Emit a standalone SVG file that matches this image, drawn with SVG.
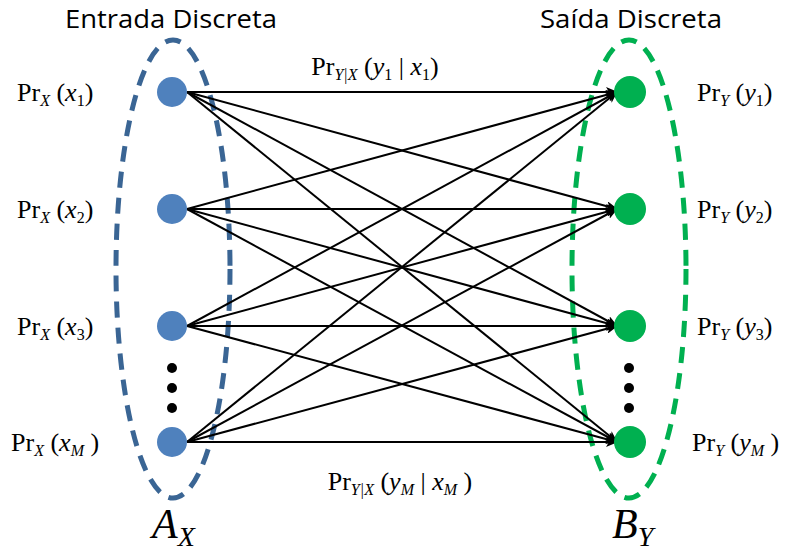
<svg xmlns="http://www.w3.org/2000/svg" width="789" height="553" viewBox="0 0 789 553">
<style>
.title{font-family:"Open Sans","Liberation Sans",sans-serif;font-size:26px;fill:#000}
.m{font-family:"Liberation Serif",serif;font-size:26px;fill:#000}
.i{font-style:italic}
.s{font-size:16px}
.big{font-family:"Liberation Serif",serif;font-size:42px;font-style:italic;fill:#000}
.bigs{font-size:28px}
.conn line{stroke:#000;stroke-width:2;marker-end:url(#ah)}
.bn{fill:#4F81BD}
.gn{fill:#00B050}
.dot{fill:#000}
</style>
<defs>
<marker id="ah" viewBox="0 0 12 10" refX="11" refY="5" markerWidth="12" markerHeight="10" markerUnits="userSpaceOnUse" orient="auto">
<path d="M0,0 L12,5 L0,10 L3,5 Z" fill="#000"/>
</marker>
</defs>
<rect width="789" height="553" fill="#fff"/>
<g id="ellipses">
<ellipse cx="173" cy="269" rx="57" ry="229" fill="none" stroke="#3A6594" stroke-width="5" stroke-dasharray="16,10"/>
<ellipse cx="629" cy="269" rx="57" ry="229" fill="none" stroke="#00B050" stroke-width="5" stroke-dasharray="16,10"/>
</g>
<g id="titles">
<text class="title" x="171" y="28" text-anchor="middle" textLength="212" lengthAdjust="spacingAndGlyphs">Entrada Discreta</text>
<text class="title" x="631" y="28" text-anchor="middle" textLength="182" lengthAdjust="spacingAndGlyphs">Saída Discreta</text>
</g>
<g class="conn" id="connectors">
<line x1="187" y1="92" x2="617" y2="92"/>
<line x1="187" y1="92" x2="617" y2="209"/>
<line x1="187" y1="92" x2="617" y2="326"/>
<line x1="187" y1="92" x2="617" y2="442"/>
<line x1="187" y1="209" x2="617" y2="92"/>
<line x1="187" y1="209" x2="617" y2="209"/>
<line x1="187" y1="209" x2="617" y2="326"/>
<line x1="187" y1="209" x2="617" y2="442"/>
<line x1="187" y1="326" x2="617" y2="92"/>
<line x1="187" y1="326" x2="617" y2="209"/>
<line x1="187" y1="326" x2="617" y2="326"/>
<line x1="187" y1="326" x2="617" y2="442"/>
<line x1="187" y1="442" x2="617" y2="92"/>
<line x1="187" y1="442" x2="617" y2="209"/>
<line x1="187" y1="442" x2="617" y2="326"/>
<line x1="187" y1="442" x2="617" y2="442"/>
</g>
<g id="x1"><circle class="bn" cx="172" cy="92" r="15"/><text class="m" x="17" y="101">Pr<tspan class="s i" dy="5">X</tspan><tspan dy="-5"> (</tspan><tspan class="i">x</tspan><tspan class="s" dy="5">1</tspan><tspan dy="-5">)</tspan></text></g>
<g id="x2"><circle class="bn" cx="172" cy="209" r="15"/><text class="m" x="17" y="218">Pr<tspan class="s i" dy="5">X</tspan><tspan dy="-5"> (</tspan><tspan class="i">x</tspan><tspan class="s" dy="5">2</tspan><tspan dy="-5">)</tspan></text></g>
<g id="x3"><circle class="bn" cx="172" cy="326" r="15"/><text class="m" x="17" y="335">Pr<tspan class="s i" dy="5">X</tspan><tspan dy="-5"> (</tspan><tspan class="i">x</tspan><tspan class="s" dy="5">3</tspan><tspan dy="-5">)</tspan></text></g>
<g id="xM"><circle class="bn" cx="172" cy="442" r="15"/><text class="m" x="11" y="451">Pr<tspan class="s i" dy="5">X</tspan><tspan dy="-5"> (</tspan><tspan class="i">x</tspan><tspan class="s i" dy="5">M</tspan><tspan dy="-5"> )</tspan></text></g>
<g id="xdots"><circle class="dot" cx="172" cy="368" r="5"/><circle class="dot" cx="172" cy="388" r="5"/><circle class="dot" cx="172" cy="408" r="5"/></g>
<g id="y1"><circle class="gn" cx="630" cy="92" r="16"/><text class="m" x="697" y="101">Pr<tspan class="s i" dy="5">Y</tspan><tspan dy="-5"> (</tspan><tspan class="i">y</tspan><tspan class="s" dy="5">1</tspan><tspan dy="-5">)</tspan></text></g>
<g id="y2"><circle class="gn" cx="630" cy="209" r="16"/><text class="m" x="697" y="218">Pr<tspan class="s i" dy="5">Y</tspan><tspan dy="-5"> (</tspan><tspan class="i">y</tspan><tspan class="s" dy="5">2</tspan><tspan dy="-5">)</tspan></text></g>
<g id="y3"><circle class="gn" cx="630" cy="326" r="16"/><text class="m" x="697" y="335">Pr<tspan class="s i" dy="5">Y</tspan><tspan dy="-5"> (</tspan><tspan class="i">y</tspan><tspan class="s" dy="5">3</tspan><tspan dy="-5">)</tspan></text></g>
<g id="yM"><circle class="gn" cx="630" cy="442" r="16"/><text class="m" x="692" y="451">Pr<tspan class="s i" dy="5">Y</tspan><tspan dy="-5"> (</tspan><tspan class="i">y</tspan><tspan class="s i" dy="5">M</tspan><tspan dy="-5"> )</tspan></text></g>
<g id="ydots"><circle class="dot" cx="629" cy="368" r="5"/><circle class="dot" cx="629" cy="388" r="5"/><circle class="dot" cx="629" cy="408" r="5"/></g>
<g id="labels">
<text class="m" x="375" y="75" text-anchor="middle">Pr<tspan class="s i" dy="5">Y|X</tspan><tspan dy="-5"> (</tspan><tspan class="i">y</tspan><tspan class="s" dy="5">1</tspan><tspan dy="-5"> | </tspan><tspan class="i">x</tspan><tspan class="s" dy="5">1</tspan><tspan dy="-5">)</tspan></text>
<text class="m" x="400" y="490" text-anchor="middle">Pr<tspan class="s i" dy="5">Y|X</tspan><tspan dy="-5"> (</tspan><tspan class="i">y</tspan><tspan class="s i" dy="5">M</tspan><tspan dy="-5"> | </tspan><tspan class="i">x</tspan><tspan class="s i" dy="5">M</tspan><tspan dy="-5"> )</tspan></text>
</g>
<g id="AX"><text class="big" x="152" y="538">A<tspan class="bigs" dy="8">X</tspan></text></g>
<g id="BY"><text class="big" x="612" y="538">B<tspan class="bigs" dy="8">Y</tspan></text></g>
</svg>
